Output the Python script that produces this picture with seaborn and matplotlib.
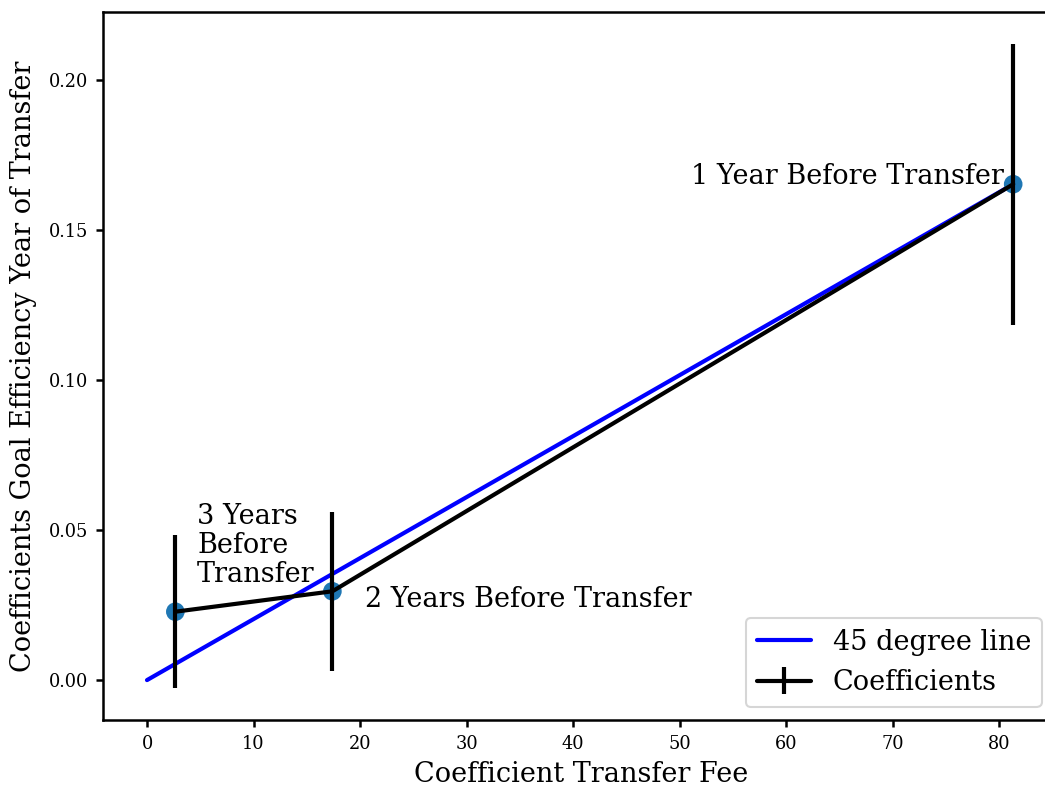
import matplotlib
matplotlib.use("Agg")
import matplotlib.pyplot as plt
import seaborn as sns
import pandas as pd

# Regression coefficients for each horizon before the transfer
horizons = ["3 Years\nBefore\nTransfer", "2 Years Before Transfer", "1 Year Before Transfer"]
coef_fee = [2.66, 17.4, 81.3]
coef_goal = [0.0228, 0.0296, 0.1653]
goal_err = [0.0255, 0.0264, 0.0468]

sns.set_style("ticks")
plt.rcParams["font.family"] = ["DejaVu Serif"]
plt.rcParams["axes.edgecolor"] = "black"
plt.rcParams["xtick.color"] = "black"
plt.rcParams["ytick.color"] = "black"
plt.rcParams["text.color"] = "black"
plt.rcParams["axes.labelcolor"] = "black"

W, H = 1045, 791
fig = plt.figure(figsize=(W / 150, H / 150), dpi=150)
# the plot area runs slightly past the right edge of the canvas
ax = fig.add_axes([103 / W, 1 - 720 / H, (1059 - 103) / W, (720 - 12) / H])

df = pd.DataFrame({"fee": coef_fee, "goal": coef_goal})

# reference line through the origin and the last coefficient pair
line_df = pd.DataFrame({"fee": [0, coef_fee[-1]], "goal": [0, coef_goal[-1]]})
sns.lineplot(data=line_df, x="fee", y="goal", color="blue", lw=2,
             label="45 degree line", ax=ax)

sns.scatterplot(data=df, x="fee", y="goal", color="#1f77b4", s=80,
                edgecolor="none", ax=ax, zorder=2)
ax.errorbar(coef_fee, coef_goal, yerr=goal_err, color="black", lw=2,
            label="Coefficients", zorder=3)

# horizon labels
ax.text(coef_fee[0] + 2.05, coef_goal[0] + 0.0100, horizons[0], fontsize=13,
        ha="left", va="baseline", linespacing=1.1)
ax.text(coef_fee[1] + 3.1, coef_goal[1] - 0.0053, horizons[1], fontsize=13,
        ha="left", va="baseline")
ax.text(coef_fee[2] - 0.9, coef_goal[2], horizons[2], fontsize=13,
        ha="right", va="baseline")

ax.set_xlabel("Coefficient Transfer Fee", fontsize=13)
ax.set_ylabel("Coefficients Goal Efficiency Year of Transfer", fontsize=13,
              labelpad=6)
ax.tick_params(labelsize=8.5, width=1.2, length=3.5)
for s in ax.spines.values():
    s.set_linewidth(1.2)

ax.set_xticks(range(0, 81, 10))
ax.set_yticks([0.0, 0.05, 0.10, 0.15, 0.20])
ax.set_yticklabels(["0.00", "0.05", "0.10", "0.15", "0.20"])
ax.set_xlim(-4.13, 85.6)
ax.set_ylim(-0.0133, 0.2227)

ax.legend(loc="lower right", bbox_to_anchor=(0.982, 0.018), borderaxespad=0,
          fontsize=13, frameon=True, fancybox=True, framealpha=0.8,
          edgecolor="0.8")

fig.savefig("out.png", dpi=150)
